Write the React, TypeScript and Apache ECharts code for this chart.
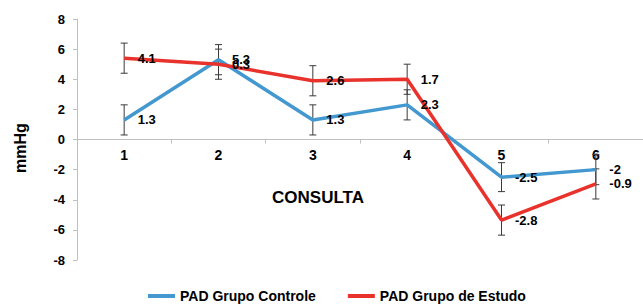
import React, { useEffect, useRef } from "react";
import * as echarts from "echarts";

const categories = ["1", "2", "3", "4", "5", "6"];
const controleValues = [1.3, 5.3, 1.3, 2.3, -2.5, -2.0];
const controleLabels = ["1.3", "5.3", "1.3", "2.3", "-2.5", "-2"];
const controleErr = [1, 1, 1, 1, 0.96, 1];
const estudoValues = [5.4, 5.0, 3.9, 4.0, -5.35, -2.95];
const estudoLabels = ["4.1", "0.3", "2.6", "1.7", "-2.8", "-0.9"];
const estudoErr = [1, 1, 1, 1, 1, 1];
const yTicks = { min: -8, max: 8, interval: 2 };
const seriesNames = ["PAD Grupo Controle", "PAD Grupo de Estudo"];

const BLUE = "#4398D0";
const RED = "#E8322B";
const FONT = "'Liberation Sans', Arial, sans-serif";

function errorSeries(values: number[], errs: number[]) {
  return {
    type: "custom",
    silent: true,
    z: 1,
    data: values.map((v, i) => [i, v - errs[i], v + errs[i]]),
    renderItem: (params: any, api: any) => {
      const x = api.value(0);
      const lo = api.coord([x, api.value(1)]);
      const hi = api.coord([x, api.value(2)]);
      const half = 3.5;
      const style = { stroke: "#3a3a3a", lineWidth: 1 };
      return {
        type: "group",
        children: [
          { type: "line", shape: { x1: lo[0], y1: lo[1], x2: hi[0], y2: hi[1] }, style },
          { type: "line", shape: { x1: lo[0] - half, y1: lo[1], x2: lo[0] + half, y2: lo[1] }, style },
          { type: "line", shape: { x1: hi[0] - half, y1: hi[1], x2: hi[0] + half, y2: hi[1] }, style },
        ],
      };
    },
  };
}

function lineSeries(name: string, values: number[], labels: string[], color: string) {
  return {
    name,
    type: "line",
    data: values,
    z: 3,
    symbol: "circle",
    symbolSize: 1,
    showSymbol: true,
    itemStyle: { color: "rgba(0,0,0,0)" },
    lineStyle: { color, width: 3.5 },
    label: {
      show: true,
      position: "right",
      distance: 13,
      formatter: (p: any) => labels[p.dataIndex],
      color: "#000",
      fontWeight: "bold",
      fontSize: 13,
      fontFamily: FONT,
    },
  };
}

export default function App() {
  const ref = useRef<HTMLDivElement>(null);
  useEffect(() => {
    if (!ref.current) return;
    const chart = echarts.init(ref.current, null, { renderer: "svg" });
    chart.setOption({
      animation: false,
      backgroundColor: "#fff",
      textStyle: { fontFamily: FONT },
      grid: { left: 77, right: 0, top: 19, bottom: 44 },
      legend: {
        left: 148,
        top: 289,
        padding: 0,
        itemWidth: 27,
        itemHeight: 4,
        itemGap: 32,
        icon: "rect",
        data: [
          { name: seriesNames[0], itemStyle: { color: BLUE } },
          { name: seriesNames[1], itemStyle: { color: RED } },
        ],
        textStyle: { fontFamily: FONT, fontWeight: "bold", fontSize: 14, color: "#000" },
      },
      xAxis: {
        type: "category",
        data: categories,
        offset: -120.5,
        axisLine: { onZero: false, lineStyle: { color: "#BFBFBF", width: 1 } },
        axisTick: { show: true, length: 4, lineStyle: { color: "#BFBFBF" } },
        axisLabel: { color: "#000", fontWeight: "bold", fontSize: 14, margin: 8, fontFamily: FONT },
      },
      yAxis: {
        type: "value",
        min: yTicks.min,
        max: yTicks.max,
        interval: yTicks.interval,
        splitLine: { show: false },
        axisLine: { show: true, lineStyle: { color: "#BFBFBF", width: 1 } },
        axisTick: { show: true, length: 4, lineStyle: { color: "#BFBFBF" } },
        axisLabel: { color: "#000", fontWeight: "bold", fontSize: 13, margin: 12, fontFamily: FONT },
      },
      graphic: [
        {
          type: "text",
          x: 318,
          y: 197,
          style: {
            text: "CONSULTA",
            fill: "#000",
            font: `bold 17px ${FONT}`,
            align: "center",
            verticalAlign: "middle",
          },
        },
        {
          type: "text",
          x: 20,
          y: 148,
          rotation: Math.PI / 2,
          style: {
            text: "mmHg",
            fill: "#000",
            font: `bold 16px ${FONT}`,
            align: "center",
            verticalAlign: "middle",
          },
        },
      ],
      series: [
        errorSeries(controleValues, controleErr),
        errorSeries(estudoValues, estudoErr),
        lineSeries(seriesNames[0], controleValues, controleLabels, BLUE),
        lineSeries(seriesNames[1], estudoValues, estudoLabels, RED),
      ],
    });
    return () => chart.dispose();
  }, []);
  return <div ref={ref} style={{ width: 643, height: 304, position: "absolute", left: 0, top: 0 }} />;
}
